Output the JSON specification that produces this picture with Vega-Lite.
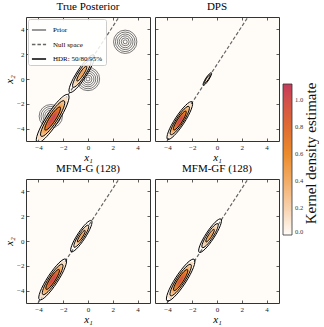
{
  "$schema": "https://vega.github.io/schema/vega-lite/v6.json",
  "padding": {"left": 3, "top": 0, "right": 0, "bottom": 0},
  "datasets": {
    "prior": [
      {"x": -3, "y": -3, "L": 0.16}, {"x": -3, "y": -3, "L": 0.32}, {"x": -3, "y": -3, "L": 0.48}, {"x": -3, "y": -3, "L": 0.63}, {"x": -3, "y": -3, "L": 0.79}, {"x": -3, "y": -3, "L": 0.94},
      {"x": 0, "y": 0, "L": 0.16}, {"x": 0, "y": 0, "L": 0.32}, {"x": 0, "y": 0, "L": 0.48}, {"x": 0, "y": 0, "L": 0.63}, {"x": 0, "y": 0, "L": 0.79}, {"x": 0, "y": 0, "L": 0.94},
      {"x": 3, "y": 3, "L": 0.16}, {"x": 3, "y": 3, "L": 0.32}, {"x": 3, "y": 3, "L": 0.48}, {"x": 3, "y": 3, "L": 0.63}, {"x": 3, "y": 3, "L": 0.79}, {"x": 3, "y": 3, "L": 0.94}
    ],
    "nullspace": [
      {"x": -4.03, "y": -5, "s": "Null space"},
      {"x": 2.5, "y": 5, "s": "Null space"}
    ],
    "fills": [
      {"p": "TP", "x": -2.85, "y": -3.19, "L": 2.065, "d": 0.15},
      {"p": "TP", "x": -2.85, "y": -3.19, "L": 1.744, "d": 0.25},
      {"p": "TP", "x": -2.85, "y": -3.19, "L": 1.525, "d": 0.35},
      {"p": "TP", "x": -2.85, "y": -3.19, "L": 1.348, "d": 0.45},
      {"p": "TP", "x": -2.85, "y": -3.19, "L": 1.193, "d": 0.55},
      {"p": "TP", "x": -2.85, "y": -3.19, "L": 1.05, "d": 0.65},
      {"p": "TP", "x": -2.85, "y": -3.19, "L": 0.911, "d": 0.75},
      {"p": "TP", "x": -2.85, "y": -3.19, "L": 0.771, "d": 0.85},
      {"p": "TP", "x": -2.85, "y": -3.19, "L": 0.621, "d": 0.95},
      {"p": "TP", "x": -2.85, "y": -3.19, "L": 0.447, "d": 1.05},
      {"p": "TP", "x": -0.5, "y": 0.43, "L": 1.275, "d": 0.15},
      {"p": "TP", "x": -0.5, "y": 0.43, "L": 0.936, "d": 0.25},
      {"p": "TP", "x": -0.5, "y": 0.43, "L": 0.662, "d": 0.35},
      {"p": "TP", "x": -0.5, "y": 0.43, "L": 0.357, "d": 0.45},
      {"p": "DPS", "x": -3.0, "y": -3.35, "L": 1.616, "d": 0.15},
      {"p": "DPS", "x": -3.0, "y": -3.35, "L": 1.364, "d": 0.25},
      {"p": "DPS", "x": -3.0, "y": -3.35, "L": 1.193, "d": 0.35},
      {"p": "DPS", "x": -3.0, "y": -3.35, "L": 1.055, "d": 0.45},
      {"p": "DPS", "x": -3.0, "y": -3.35, "L": 0.933, "d": 0.55},
      {"p": "DPS", "x": -3.0, "y": -3.35, "L": 0.821, "d": 0.65},
      {"p": "DPS", "x": -3.0, "y": -3.35, "L": 0.713, "d": 0.75},
      {"p": "DPS", "x": -3.0, "y": -3.35, "L": 0.603, "d": 0.85},
      {"p": "DPS", "x": -3.0, "y": -3.35, "L": 0.486, "d": 0.95},
      {"p": "DPS", "x": -3.0, "y": -3.35, "L": 0.35, "d": 1.05},
      {"p": "DPS", "x": -0.78, "y": 0.0, "L": 0.42, "d": 0.12},
      {"p": "G", "x": -2.85, "y": -3.1, "L": 1.75, "d": 0.15},
      {"p": "G", "x": -2.85, "y": -3.1, "L": 1.48, "d": 0.25},
      {"p": "G", "x": -2.85, "y": -3.1, "L": 1.29, "d": 0.35},
      {"p": "G", "x": -2.85, "y": -3.1, "L": 1.14, "d": 0.45},
      {"p": "G", "x": -2.85, "y": -3.1, "L": 1.01, "d": 0.55},
      {"p": "G", "x": -2.85, "y": -3.1, "L": 0.89, "d": 0.65},
      {"p": "G", "x": -2.85, "y": -3.1, "L": 0.77, "d": 0.75},
      {"p": "G", "x": -2.85, "y": -3.1, "L": 0.65, "d": 0.85},
      {"p": "G", "x": -2.85, "y": -3.1, "L": 0.53, "d": 0.95},
      {"p": "G", "x": -2.85, "y": -3.1, "L": 0.38, "d": 1.05},
      {"p": "G", "x": -0.54, "y": 0.39, "L": 1.06, "d": 0.15},
      {"p": "G", "x": -0.54, "y": 0.39, "L": 0.78, "d": 0.25},
      {"p": "G", "x": -0.54, "y": 0.39, "L": 0.55, "d": 0.35},
      {"p": "G", "x": -0.54, "y": 0.39, "L": 0.3, "d": 0.45},
      {"p": "GF", "x": -2.93, "y": -3.15, "L": 1.75, "d": 0.15},
      {"p": "GF", "x": -2.93, "y": -3.15, "L": 1.47, "d": 0.25},
      {"p": "GF", "x": -2.93, "y": -3.15, "L": 1.27, "d": 0.35},
      {"p": "GF", "x": -2.93, "y": -3.15, "L": 1.11, "d": 0.45},
      {"p": "GF", "x": -2.93, "y": -3.15, "L": 0.96, "d": 0.55},
      {"p": "GF", "x": -2.93, "y": -3.15, "L": 0.83, "d": 0.65},
      {"p": "GF", "x": -2.93, "y": -3.15, "L": 0.69, "d": 0.75},
      {"p": "GF", "x": -2.93, "y": -3.15, "L": 0.55, "d": 0.85},
      {"p": "GF", "x": -2.93, "y": -3.15, "L": 0.375, "d": 0.95},
      {"p": "GF", "x": -0.56, "y": 0.43, "L": 1.13, "d": 0.15},
      {"p": "GF", "x": -0.56, "y": 0.43, "L": 0.83, "d": 0.25},
      {"p": "GF", "x": -0.56, "y": 0.43, "L": 0.59, "d": 0.35},
      {"p": "GF", "x": -0.56, "y": 0.43, "L": 0.32, "d": 0.45}
    ],
    "hdr": [
      {"p": "TP", "x": -2.85, "y": -3.19, "L": 2.3},
      {"p": "TP", "x": -2.85, "y": -3.19, "L": 1.7},
      {"p": "TP", "x": -2.85, "y": -3.19, "L": 1.1},
      {"p": "TP", "x": -0.5, "y": 0.43, "L": 1.8},
      {"p": "TP", "x": -0.5, "y": 0.43, "L": 1.3},
      {"p": "TP", "x": -0.5, "y": 0.43, "L": 0.7},
      {"p": "DPS", "x": -3.0, "y": -3.35, "L": 1.8},
      {"p": "DPS", "x": -3.0, "y": -3.35, "L": 1.35},
      {"p": "DPS", "x": -3.0, "y": -3.35, "L": 0.9},
      {"p": "DPS", "x": -0.78, "y": 0.0, "L": 0.6},
      {"p": "DPS", "x": -0.78, "y": 0.0, "L": 0.38},
      {"p": "G", "x": -2.85, "y": -3.1, "L": 1.95},
      {"p": "G", "x": -2.85, "y": -3.1, "L": 1.45},
      {"p": "G", "x": -2.85, "y": -3.1, "L": 0.95},
      {"p": "G", "x": -0.54, "y": 0.39, "L": 1.5},
      {"p": "G", "x": -0.54, "y": 0.39, "L": 1.05},
      {"p": "G", "x": -0.54, "y": 0.39, "L": 0.55},
      {"p": "GF", "x": -2.93, "y": -3.15, "L": 2.0},
      {"p": "GF", "x": -2.93, "y": -3.15, "L": 1.5},
      {"p": "GF", "x": -2.93, "y": -3.15, "L": 1.0},
      {"p": "GF", "x": -0.56, "y": 0.43, "L": 1.6},
      {"p": "GF", "x": -0.56, "y": 0.43, "L": 1.15},
      {"p": "GF", "x": -0.56, "y": 0.43, "L": 0.6}
    ]
  },
  "columns": 2,
  "spacing": {"row": 38, "column": 5},
  "bounds": "flush",
  "resolve": {
    "scale": {"fill": "independent", "size": "independent", "stroke": "independent", "strokeDash": "independent", "x": "independent", "y": "independent"},
    "legend": {"fill": "independent", "stroke": "independent", "strokeDash": "independent"}
  },
  "concat": [
    {
      "width": 124, "height": 124,
      "title": "True Posterior",
      "resolve": {"axis": {"x": "independent", "y": "independent"}},
      "layer": [
        {
          "data": {"name": "prior"},
          "mark": {"type": "point", "shape": "circle", "filled": false, "color": "#555555", "strokeWidth": 0.8, "opacity": 1, "clip": true},
          "encoding": {
            "x": {"field": "x", "type": "quantitative", "scale": {"domain": [-5, 5], "nice": false, "zero": false}, "axis": null},
            "y": {"field": "y", "type": "quantitative", "scale": {"domain": [-5, 5], "nice": false, "zero": false}, "axis": null},
            "size": {"field": "L", "type": "quantitative", "scale": {"type": "pow", "exponent": 2, "domain": [0, 2], "range": [0, 2460]}, "legend": null}
          }
        },
        {
          "data": {"name": "nullspace"},
          "mark": {"type": "line", "strokeWidth": 1.2, "clip": true},
          "encoding": {
            "x": {"field": "x", "type": "quantitative", "scale": {"domain": [-5, 5], "nice": false, "zero": false}, "axis": {"orient": "bottom", "values": [-4, -2, 0, 2, 4], "title": "x₁"}},
            "y": {"field": "y", "type": "quantitative", "scale": {"domain": [-5, 5], "nice": false, "zero": false}, "axis": {"orient": "left", "values": [-4, -2, 0, 2, 4], "title": "x₂"}},
            "stroke": {"field": "s", "type": "nominal", "scale": {"domain": ["Prior", "Null space", "HDR: 50/80/95%"], "range": ["#777777", "#666666", "#000000"]},
              "legend": {"orient": "top-left", "offset": 2, "title": null, "padding": 3, "rowPadding": 3.5, "symbolType": "stroke", "symbolSize": 200, "symbolStrokeWidth": 1.3, "labelFontSize": 7, "labelColor": "#000000", "labelOffset": 6, "strokeColor": "#cccccc", "fillColor": "rgba(255,255,255,0.85)", "cornerRadius": 2}},
            "strokeDash": {"field": "s", "type": "nominal", "scale": {"domain": ["Prior", "Null space", "HDR: 50/80/95%"], "range": [[1, 0], [3.5, 2], [1, 0]]}}
          }
        },
        {
          "data": {"name": "fills"},
          "transform": [{"filter": "datum.p === 'TP'"}],
          "mark": {"type": "point", "shape": "M0,-1A0.22,1,0,1,1,0,1A0.22,1,0,1,1,0,-1Z", "filled": true, "angle": 33, "opacity": 1, "strokeWidth": 0, "clip": true},
          "encoding": {
            "x": {"field": "x", "type": "quantitative", "axis": null},
            "y": {"field": "y", "type": "quantitative", "axis": null},
            "size": {"field": "L", "type": "quantitative", "legend": null},
            "fill": {"field": "d", "type": "quantitative", "scale": {"domain": [0, 0.2, 0.4, 0.6, 0.8, 1.0, 1.12], "range": ["#fffcf8", "#f7d2ad", "#f2ac66", "#eb8b2d", "#df6c33", "#d2504a", "#c43c5c"], "interpolate": "rgb"}, "legend": null}
          }
        },
        {
          "data": {"name": "hdr"},
          "transform": [{"filter": "datum.p === 'TP'"}],
          "mark": {"type": "point", "shape": "M0,-1A0.22,1,0,1,1,0,1A0.22,1,0,1,1,0,-1Z", "filled": false, "angle": 33, "color": "#000000", "opacity": 1, "strokeWidth": 0.9, "clip": true},
          "encoding": {
            "x": {"field": "x", "type": "quantitative", "axis": {"orient": "top", "values": [-4, -2, 0, 2, 4], "labels": false, "title": null}},
            "y": {"field": "y", "type": "quantitative", "axis": {"orient": "right", "values": [-4, -2, 0, 2, 4], "labels": false, "title": null}},
            "size": {"field": "L", "type": "quantitative", "legend": null}
          }
        }
      ]
    },
    {
      "width": 124, "height": 124,
      "title": "DPS",
      "resolve": {"axis": {"x": "independent", "y": "independent"}},
      "layer": [
        {
          "data": {"name": "nullspace"},
          "mark": {"type": "line", "strokeWidth": 1.2, "stroke": "#666666", "strokeDash": [3.5, 2], "clip": true},
          "encoding": {
            "x": {"field": "x", "type": "quantitative", "scale": {"domain": [-5, 5], "nice": false, "zero": false}, "axis": {"orient": "bottom", "values": [-4, -2, 0, 2, 4], "title": "x₁"}},
            "y": {"field": "y", "type": "quantitative", "scale": {"domain": [-5, 5], "nice": false, "zero": false}, "axis": {"orient": "left", "values": [-4, -2, 0, 2, 4], "labels": false, "title": null}}
          }
        },
        {
          "data": {"name": "fills"},
          "transform": [{"filter": "datum.p === 'DPS'"}],
          "mark": {"type": "point", "shape": "M0,-1A0.22,1,0,1,1,0,1A0.22,1,0,1,1,0,-1Z", "filled": true, "angle": 33, "opacity": 1, "strokeWidth": 0, "clip": true},
          "encoding": {
            "x": {"field": "x", "type": "quantitative", "axis": null},
            "y": {"field": "y", "type": "quantitative", "axis": null},
            "size": {"field": "L", "type": "quantitative", "scale": {"type": "pow", "exponent": 2, "domain": [0, 2], "range": [0, 2460]}, "legend": null},
            "fill": {"field": "d", "type": "quantitative", "scale": {"domain": [0, 0.2, 0.4, 0.6, 0.8, 1.0, 1.12], "range": ["#fffcf8", "#f7d2ad", "#f2ac66", "#eb8b2d", "#df6c33", "#d2504a", "#c43c5c"], "interpolate": "rgb"},
              "legend": {"orient": "none", "legendX": 128, "legendY": 67, "direction": "vertical", "gradientLength": 151, "gradientThickness": 9, "values": [0, 0.2, 0.4, 0.6, 0.8, 1.0], "format": ".1f", "labelFontSize": 6.5, "labelColor": "#333333", "labelOffset": 3, "labelOverlap": false, "gradientStrokeColor": "#333333", "gradientStrokeWidth": 0.8, "title": null, "padding": 0}}
          }
        },
        {
          "data": {"name": "hdr"},
          "transform": [{"filter": "datum.p === 'DPS'"}],
          "mark": {"type": "point", "shape": "M0,-1A0.22,1,0,1,1,0,1A0.22,1,0,1,1,0,-1Z", "filled": false, "angle": 33, "color": "#000000", "opacity": 1, "strokeWidth": 0.9, "clip": true},
          "encoding": {
            "x": {"field": "x", "type": "quantitative", "axis": {"orient": "top", "values": [-4, -2, 0, 2, 4], "labels": false, "title": null}},
            "y": {"field": "y", "type": "quantitative", "axis": {"orient": "right", "values": [-4, -2, 0, 2, 4], "labels": false, "title": "Kernel density estimate", "titleAngle": -90, "titleX": 31, "titleY": 136, "titleAlign": "center", "titleBaseline": "middle", "titleFontStyle": "normal", "titleFontSize": 15, "titleColor": "#111111"}},
            "size": {"field": "L", "type": "quantitative", "legend": null}
          }
        }
      ]
    },
    {
      "width": 124, "height": 124,
      "title": "MFM-G (128)",
      "resolve": {"axis": {"x": "independent", "y": "independent"}},
      "layer": [
        {
          "data": {"name": "nullspace"},
          "mark": {"type": "line", "strokeWidth": 1.2, "stroke": "#666666", "strokeDash": [3.5, 2], "clip": true},
          "encoding": {
            "x": {"field": "x", "type": "quantitative", "scale": {"domain": [-5, 5], "nice": false, "zero": false}, "axis": {"orient": "bottom", "values": [-4, -2, 0, 2, 4], "title": "x₁"}},
            "y": {"field": "y", "type": "quantitative", "scale": {"domain": [-5, 5], "nice": false, "zero": false}, "axis": {"orient": "left", "values": [-4, -2, 0, 2, 4], "title": "x₂"}}
          }
        },
        {
          "data": {"name": "fills"},
          "transform": [{"filter": "datum.p === 'G'"}],
          "mark": {"type": "point", "shape": "M0,-1A0.22,1,0,1,1,0,1A0.22,1,0,1,1,0,-1Z", "filled": true, "angle": 33, "opacity": 1, "strokeWidth": 0, "clip": true},
          "encoding": {
            "x": {"field": "x", "type": "quantitative", "axis": null},
            "y": {"field": "y", "type": "quantitative", "axis": null},
            "size": {"field": "L", "type": "quantitative", "scale": {"type": "pow", "exponent": 2, "domain": [0, 2], "range": [0, 2460]}, "legend": null},
            "fill": {"field": "d", "type": "quantitative", "scale": {"domain": [0, 0.2, 0.4, 0.6, 0.8, 1.0, 1.12], "range": ["#fffcf8", "#f7d2ad", "#f2ac66", "#eb8b2d", "#df6c33", "#d2504a", "#c43c5c"], "interpolate": "rgb"}, "legend": null}
          }
        },
        {
          "data": {"name": "hdr"},
          "transform": [{"filter": "datum.p === 'G'"}],
          "mark": {"type": "point", "shape": "M0,-1A0.22,1,0,1,1,0,1A0.22,1,0,1,1,0,-1Z", "filled": false, "angle": 33, "color": "#000000", "opacity": 1, "strokeWidth": 0.9, "clip": true},
          "encoding": {
            "x": {"field": "x", "type": "quantitative", "axis": {"orient": "top", "values": [-4, -2, 0, 2, 4], "labels": false, "title": null}},
            "y": {"field": "y", "type": "quantitative", "axis": {"orient": "right", "values": [-4, -2, 0, 2, 4], "labels": false, "title": null}},
            "size": {"field": "L", "type": "quantitative", "legend": null}
          }
        }
      ]
    },
    {
      "width": 124, "height": 124,
      "title": "MFM-GF (128)",
      "resolve": {"axis": {"x": "independent", "y": "independent"}},
      "layer": [
        {
          "data": {"name": "nullspace"},
          "mark": {"type": "line", "strokeWidth": 1.2, "stroke": "#666666", "strokeDash": [3.5, 2], "clip": true},
          "encoding": {
            "x": {"field": "x", "type": "quantitative", "scale": {"domain": [-5, 5], "nice": false, "zero": false}, "axis": {"orient": "bottom", "values": [-4, -2, 0, 2, 4], "title": "x₁"}},
            "y": {"field": "y", "type": "quantitative", "scale": {"domain": [-5, 5], "nice": false, "zero": false}, "axis": {"orient": "left", "values": [-4, -2, 0, 2, 4], "labels": false, "title": null}}
          }
        },
        {
          "data": {"name": "fills"},
          "transform": [{"filter": "datum.p === 'GF'"}],
          "mark": {"type": "point", "shape": "M0,-1A0.22,1,0,1,1,0,1A0.22,1,0,1,1,0,-1Z", "filled": true, "angle": 33, "opacity": 1, "strokeWidth": 0, "clip": true},
          "encoding": {
            "x": {"field": "x", "type": "quantitative", "axis": null},
            "y": {"field": "y", "type": "quantitative", "axis": null},
            "size": {"field": "L", "type": "quantitative", "scale": {"type": "pow", "exponent": 2, "domain": [0, 2], "range": [0, 2460]}, "legend": null},
            "fill": {"field": "d", "type": "quantitative", "scale": {"domain": [0, 0.2, 0.4, 0.6, 0.8, 1.0, 1.12], "range": ["#fffcf8", "#f7d2ad", "#f2ac66", "#eb8b2d", "#df6c33", "#d2504a", "#c43c5c"], "interpolate": "rgb"}, "legend": null}
          }
        },
        {
          "data": {"name": "hdr"},
          "transform": [{"filter": "datum.p === 'GF'"}],
          "mark": {"type": "point", "shape": "M0,-1A0.22,1,0,1,1,0,1A0.22,1,0,1,1,0,-1Z", "filled": false, "angle": 33, "color": "#000000", "opacity": 1, "strokeWidth": 0.9, "clip": true},
          "encoding": {
            "x": {"field": "x", "type": "quantitative", "axis": {"orient": "top", "values": [-4, -2, 0, 2, 4], "labels": false, "title": null}},
            "y": {"field": "y", "type": "quantitative", "axis": {"orient": "right", "values": [-4, -2, 0, 2, 4], "labels": false, "title": null}},
            "size": {"field": "L", "type": "quantitative", "legend": null}
          }
        }
      ]
    }
  ],
  "config": {
    "font": "Liberation Serif",
    "view": {"stroke": "#333333", "strokeWidth": 1, "fill": "#fffcf8"},
    "title": {"font": "Liberation Serif", "fontSize": 11, "fontWeight": "normal", "offset": 5, "color": "#000000"},
    "axis": {"domain": false, "grid": false, "tickSize": -3, "tickColor": "#333333", "tickWidth": 0.8, "labelFont": "Liberation Serif", "labelFontSize": 7, "labelColor": "#222222", "labelPadding": 5, "titleFont": "Liberation Serif", "titleFontSize": 11, "titleFontWeight": "normal", "titleFontStyle": "italic", "titleColor": "#000000", "titlePadding": 2, "zindex": 1},
    "axisBottom": {"titlePadding": 1},
    "legend": {"labelFont": "Liberation Serif", "titleFont": "Liberation Serif", "labelColor": "#000000"}
  }
}
